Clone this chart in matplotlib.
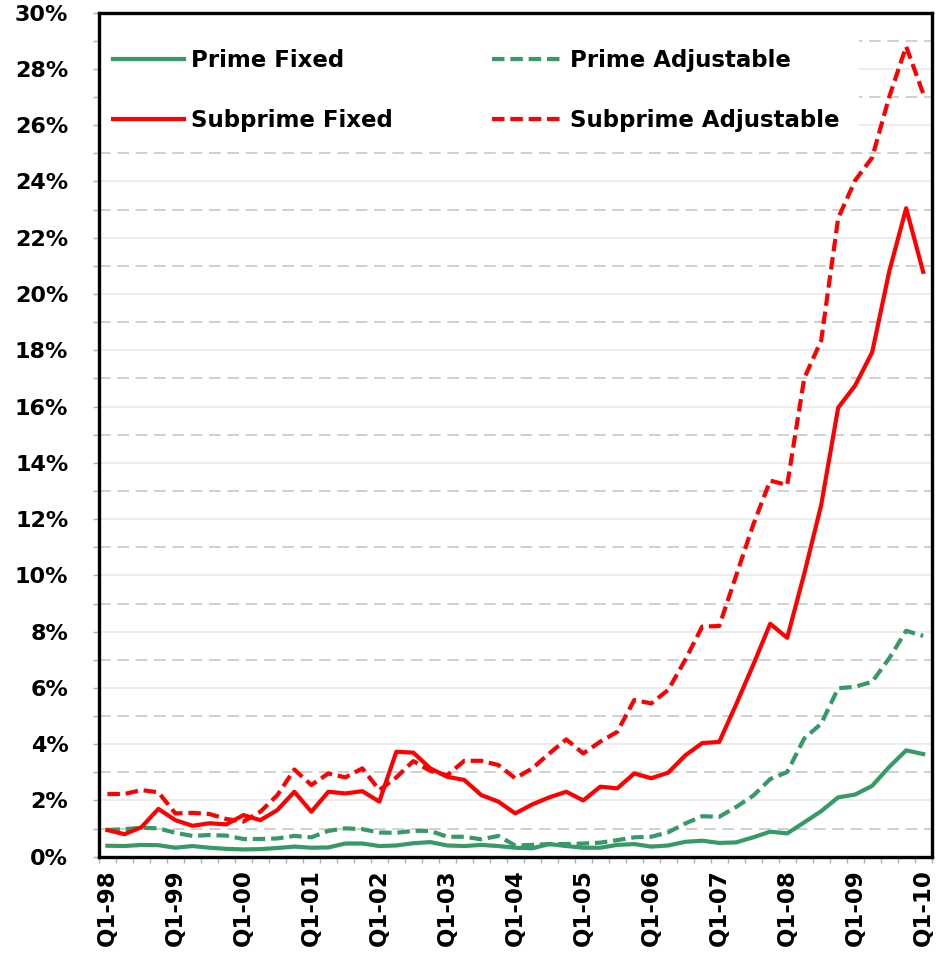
import matplotlib
matplotlib.use("Agg")
import matplotlib.pyplot as plt
import numpy as np
from matplotlib.patches import Rectangle
from matplotlib.ticker import FixedLocator

plt.rcParams['font.family'] = ['DejaVu Sans']

years = ['98', '99', '00', '01', '02', '03', '04', '05', '06', '07', '08', '09', '10']
quarters = [f"Q{q}-{y}" for y in years for q in range(1, 5)][:49]
tick_labels = [f"Q1-{y}" for y in years]

prime_fixed = [0.39, 0.38, 0.42, 0.41, 0.32, 0.38, 0.32, 0.28, 0.26, 0.27, 0.31, 0.36,
               0.32, 0.33, 0.47, 0.47, 0.38, 0.40, 0.48, 0.52, 0.40, 0.38, 0.42, 0.38,
               0.32, 0.30, 0.45, 0.38, 0.32, 0.32, 0.42, 0.45, 0.36, 0.40, 0.53, 0.57,
               0.49, 0.51, 0.69, 0.89, 0.83, 1.22, 1.62, 2.11, 2.21, 2.52, 3.19, 3.78,
               3.65]
prime_adj = [0.95, 0.98, 1.03, 1.01, 0.85, 0.74, 0.77, 0.75, 0.63, 0.63, 0.65, 0.74,
             0.69, 0.92, 1.01, 0.98, 0.86, 0.85, 0.92, 0.92, 0.71, 0.71, 0.62, 0.74,
             0.40, 0.42, 0.45, 0.45, 0.47, 0.50, 0.59, 0.69, 0.71, 0.87, 1.18, 1.44,
             1.42, 1.77, 2.17, 2.76, 3.01, 4.20, 4.73, 5.99, 6.04, 6.22, 7.05, 8.03,
             7.85]
subprime_fixed = [0.95, 0.80, 1.05, 1.70, 1.30, 1.10, 1.19, 1.15, 1.48, 1.30, 1.66, 2.31,
                  1.60, 2.31, 2.25, 2.33, 1.96, 3.73, 3.70, 3.14, 2.84, 2.73, 2.19, 1.96,
                  1.54, 1.86, 2.11, 2.31, 2.00, 2.49, 2.43, 2.96, 2.79, 2.99, 3.60, 4.04,
                  4.08, 5.42, 6.82, 8.28, 7.78, 10.05, 12.50, 15.96, 16.75, 17.93, 20.79,
                  23.05, 20.79]
subprime_adj = [2.23, 2.23, 2.37, 2.29, 1.54, 1.56, 1.52, 1.34, 1.25, 1.60, 2.19, 3.10,
                2.55, 2.96, 2.82, 3.14, 2.37, 2.82, 3.40, 3.05, 2.90, 3.41, 3.41, 3.26,
                2.79, 3.14, 3.67, 4.17, 3.67, 4.09, 4.44, 5.57, 5.45, 5.93, 7.00, 8.18,
                8.20, 10.00, 11.80, 13.37, 13.21, 17.00, 18.35, 22.70, 24.04, 24.85,
                27.00, 28.80, 27.13]

GREEN = '#359a66'
RED = '#ff0000'
LW = 3.0
DASH = (3.0, 1.4)

fig = plt.figure(figsize=(9.42, 9.61), dpi=100)
ax = fig.add_axes([0.105, 0.1085, 0.884, 0.8783])

x = np.arange(len(quarters))
l_pf, = ax.plot(x, prime_fixed, color=GREEN, lw=LW, zorder=5, solid_joinstyle='round')
l_pa, = ax.plot(x, prime_adj, color=GREEN, lw=LW, zorder=5, dashes=DASH)
l_sf, = ax.plot(x, subprime_fixed, color=RED, lw=LW, zorder=6, solid_joinstyle='round')
l_sa, = ax.plot(x, subprime_adj, color=RED, lw=LW, zorder=6, dashes=DASH)

ax.set_xlim(-0.5, len(quarters) - 0.5)
ax.set_ylim(0, 30)

# y grid: solid light at even, dashed at odd
for v in range(2, 30, 2):
    ax.axhline(v, color='#e8e8e8', lw=1.1, zorder=1)
for v in range(1, 30, 2):
    ax.axhline(v, color='#c8c8c8', lw=1.2, dashes=(7, 4), zorder=1)

ax.set_yticks(range(0, 31, 2))
ax.set_yticklabels([f"{v}%" for v in range(0, 31, 2)])
ax.yaxis.set_minor_locator(FixedLocator(range(1, 30, 2)))
ax.tick_params(axis='y', which='both', direction='out', length=4, width=1,
               color='#b0b0b0', pad=18, labelsize=16)
for t in ax.get_yticklabels():
    t.set_fontweight('bold')

ax.set_xticks(x[::4])
ax.set_xticklabels(tick_labels, rotation=90)
ax.xaxis.set_minor_locator(FixedLocator(np.arange(-0.5, len(quarters), 1)))
ax.tick_params(axis='x', which='major', length=0, pad=9, labelsize=16.5)
ax.tick_params(axis='x', which='minor', direction='out', length=4, width=1, color='#b0b0b0')
for t in ax.get_xticklabels():
    t.set_fontweight('bold')

for s in ax.spines.values():
    s.set_linewidth(2.4)
    s.set_color('black')
    s.set_zorder(10)

# legend background
ax.add_patch(Rectangle((0, 0.85), 0.913, 0.15, transform=ax.transAxes,
                       facecolor='white', edgecolor='none', zorder=3))

leg_kw = dict(frameon=False, handlelength=3.1, handletextpad=0.3, labelspacing=1.6,
              borderpad=0, borderaxespad=0, loc='center left',
              prop={'weight': 'bold', 'size': 16.5})
leg1 = ax.legend([l_pf, l_sf], ['Prime Fixed', 'Subprime Fixed'],
                 bbox_to_anchor=(0.0168, 0.9075), **leg_kw)
leg1.set_zorder(11)
ax.add_artist(leg1)
leg2 = ax.legend([l_pa, l_sa], ['Prime Adjustable', 'Subprime Adjustable'],
                 bbox_to_anchor=(0.472, 0.9075), **leg_kw)
leg2.set_zorder(11)

fig.savefig('out.png', dpi=100)
